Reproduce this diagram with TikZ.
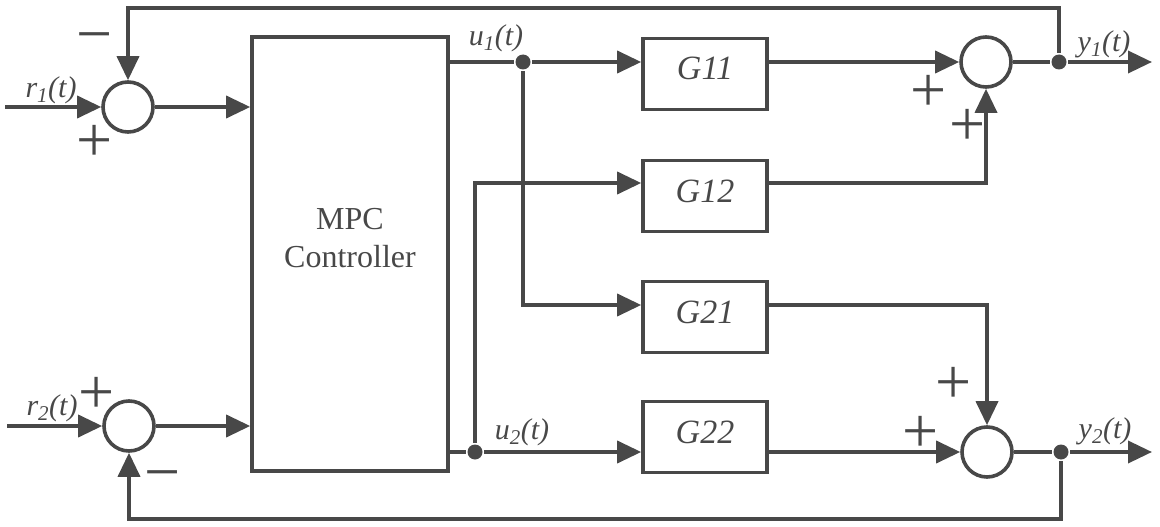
\documentclass[tikz,border=0pt]{standalone}
\usepackage{fontspec}
\setmainfont{Liberation Serif}
\usetikzlibrary{arrows.meta}
\definecolor{ink}{RGB}{72,72,72}
\begin{document}
\begin{tikzpicture}[x=1pt,y=-1pt,
  line width=3.6pt, draw=ink, text=ink,
  sumnode/.style={circle, draw, minimum size=50pt, inner sep=0pt},
  blk/.style={rectangle, draw, minimum width=124pt, minimum height=71pt, inner sep=0pt,
     text height=24pt, text depth=12pt,
     font=\fontsize{34}{34}\selectfont\itshape},
  lbl/.style={font=\fontsize{30}{30}\selectfont\itshape, inner sep=0pt},
  sgn/.style={anchor=base, inner sep=0pt, font=\fontsize{64}{64}\selectfont},
  dot/.style={circle, fill=ink, draw=none, minimum size=15pt, inner sep=0pt},
  arr/.style={-{Triangle[length=24pt,width=22pt]}},
]
\useasboundingbox (0,0) rectangle (1160,527);
% summing junctions
\node[sumnode] (s1) at (128,107) {};
\node[sumnode] (s2) at (129,426) {};
\node[sumnode] (s3) at (986,62) {};
\node[sumnode] (s4) at (987,452) {};
% controller
\node[rectangle, draw, minimum width=196pt, minimum height=434pt, inner sep=0pt] (mpc) at (350,254) {};
\node[font=\fontsize{32}{38}\selectfont, align=center, inner sep=0pt] (mpct) at (350,238) {MPC\\Controller};
% plant blocks
\node[blk] (g11) at (705,74) {G11};
\node[blk] (g12) at (705,196) {G12};
\node[blk] (g21) at (705,317) {G21};
\node[blk] (g22) at (705,437) {G22};
% branch points
\node[dot] (d1) at (523,62) {};
\node[dot] (d2) at (475,452) {};
\node[dot] (d3) at (1059,62) {};
\node[dot] (d4) at (1061,452) {};
\coordinate (a12) at (475,183);
\coordinate (a21) at (523,305);
\coordinate (r1in) at (5,107);
\coordinate (r2in) at (7,426);
\coordinate (y1out) at (1152,62);
\coordinate (y2out) at (1152,452);
\coordinate (top) at (1059,8);
\coordinate (bot) at (1061,519);
% connectors
\draw[arr] (r1in) -- (s1.west);
\draw[arr] (s1.east) -- (mpc.west |- s1);
\draw[arr] (r2in) -- (s2.west);
\draw[arr] (s2.east) -- (mpc.west |- s2);
\draw[arr] (mpc.east |- d1) -- (d1) -- (g11.west |- d1);
\draw[arr] (d1) -- (a21) -- (g21.west |- a21);
\draw[arr] (mpc.east |- d2) -- (d2) -- (g22.west |- d2);
\draw[arr] (d2) -- (a12) -- (g12.west |- a12);
\draw[arr] (g11.east |- d1) -- (s3.west);
\draw[arr] (g12.east |- a12) -- (s3 |- a12) -- (s3.south);
\draw[arr] (g21.east |- a21) -- (s4 |- a21) -- (s4.north);
\draw[arr] (g22.east |- d2) -- (s4.west);
\draw[arr] (s3.east) -- (d3) -- (y1out);
\draw[arr] (s4.east) -- (d4) -- (y2out);
\draw[arr] (d3) -- (top) -- (s1 |- top) -- (s1.north);
\draw[arr] (d4) -- (bot) -- (s2 |- bot) -- (s2.south);
% labels
\node[lbl] (lr1) at (51,90) {r\textsubscript{1}(t)};
\node[lbl] (lr2) at (52,408) {r\textsubscript{2}(t)};
\node[lbl] (lu1) at (496,38) {u\textsubscript{1}(t)};
\node[lbl] (lu2) at (522,432) {u\textsubscript{2}(t)};
\node[lbl] (ly1) at (1104,44) {y\textsubscript{1}(t)};
\node[lbl] (ly2) at (1105,431) {y\textsubscript{2}(t)};
% signs
\node[sgn] (m1) at (95,56) {−};
\node[sgn] (p1) at (95,161) {+};
\node[sgn] (p2) at (97,413) {+};
\node[sgn] (m2) at (163,493) {−};
\node[sgn] (p3a) at (929,111) {+};
\node[sgn] (p3b) at (968,145) {+};
\node[sgn] (p4a) at (954,403) {+};
\node[sgn] (p4b) at (921,452) {+};
\end{tikzpicture}
\end{document}
